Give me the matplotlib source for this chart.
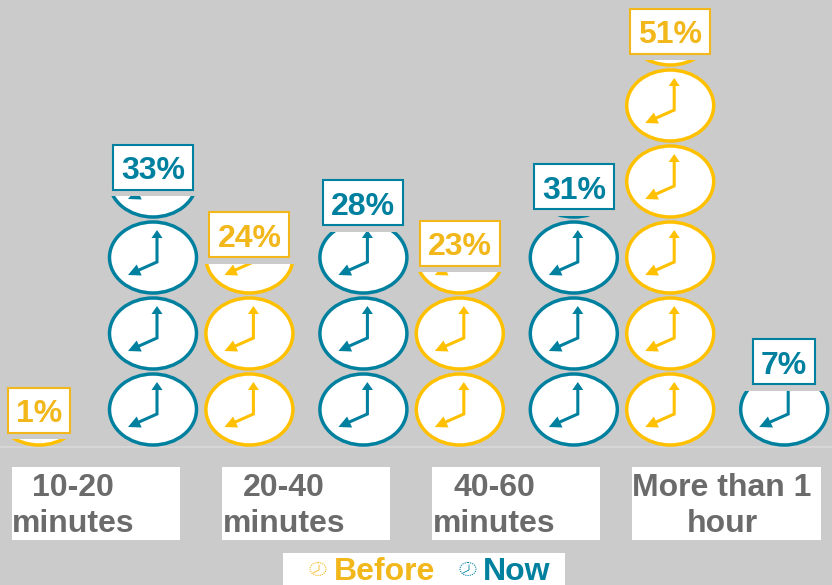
import matplotlib
matplotlib.use('Agg')
import matplotlib.pyplot as plt
from matplotlib.patches import Ellipse, Polygon, Rectangle
from matplotlib.transforms import Affine2D

plt.rcParams['font.family'] = ['Liberation Sans', 'DejaVu Sans']

# --- Data ---
categories = ['10-20\nminutes', '20-40\nminutes', '40-60\nminutes', 'More than 1\nhour']
before = [1, 24, 23, 51]
now = [33, 28, 31, 7]
# the columns are not quite drawn to their printed labels
before_drawn = [1.05, 24.1, 23.0, 50.9]
now_drawn = [33.0, 28.3, 30.4, 7.4]
pct_per_clock = 10

YELLOW = '#ffc000'
TEAL = '#00809f'
YELLOW_TXT = '#f2b71b'
GREY_TXT = '#6b6b6b'
BG = '#cbcbcb'

# --- Figure: axes fill the canvas, scale set so one clock is 10% ---
W, H = 832, 585
fig = plt.figure(figsize=(W / 100, H / 100), dpi=100, facecolor=BG)
ax = fig.add_axes([0, 0, 1, 1])
ax.set_facecolor(BG)
ax.axis('off')

group_px = 210.4
first_px = 96
pct_px = 7.6
base_px = 447
ax.set_xlim(-first_px / group_px, (W - first_px) / group_px)
ax.set_ylim(-(H - base_px) / pct_px, base_px / pct_px)

# pixels from the top left, for the furniture that is not data
px = Affine2D().scale(1, -1).translate(0, H)
offset = 57 / group_px


def dx(p):
    return p / group_px


def dy(p):
    return p / pct_px


def draw_clock(x, y0, clip, color):
    # y0 is the bottom of the clock cell, in percent
    parts = [Ellipse((x, y0 + dy(37.5)), dx(87), dy(71), fc='white', ec=color, lw=2.5, zorder=2)]
    ex, ey = x + dx(4), y0 + dy(33)
    parts.append(ax.plot([x - dx(14), ex, ex], [y0 + dy(25), ey, y0 + dy(57)], color=color, lw=2.2,
                         solid_joinstyle='miter', zorder=3)[0])
    # arrow heads
    parts.append(Polygon([(ex, y0 + dy(65)), (ex - dx(5.5), y0 + dy(57)), (ex + dx(5.5), y0 + dy(57))],
                         fc=color, ec='none', zorder=3))
    parts.append(Polygon([(x - dx(25), y0 + dy(20)), (x - dx(11.3), y0 + dy(19.5)), (x - dx(16.3), y0 + dy(30.5))],
                         fc=color, ec='none', zorder=3))
    for p in parts:
        if not p.axes:
            ax.add_patch(p)
        p.set_clip_path(clip)


def draw_column(x, value, height, color, txt_color):
    clip = Rectangle((x - dx(60), 0), dx(120), height, transform=ax.transData)
    k = 0
    while k * pct_per_clock < height:
        draw_clock(x, k * pct_per_clock, clip, color)
        k += 1
    bw = dx(80 if value >= 10 else 62)
    ax.add_patch(Rectangle((x - bw / 2, height + dy(6.5)), bw, dy(45), fc='white', ec=txt_color, lw=1.5, zorder=4))
    ax.text(x, height + dy(6.5) + dy(22), f'{value}%', color=txt_color, fontsize=23, fontweight='bold',
            ha='center', va='center_baseline', zorder=5)


for i in range(len(categories)):
    draw_column(i - offset, before[i], before_drawn[i], YELLOW, YELLOW_TXT)
    draw_column(i + offset, now[i], now_drawn[i], TEAL, TEAL)

# baseline
ax.axhline(0, color='#d9d9d9', lw=1.2, zorder=1)

# category label boxes
box_left = [12, 222, 432, 632]
box_width = [168, 168, 168, 189]
text_center = [73, 284, 494, 722]
for i, cat in enumerate(categories):
    ax.add_patch(Rectangle((box_left[i], 467), box_width[i], 73, transform=px, fc='white', ec='none', zorder=1))
    for j, line in enumerate(cat.split('\n')):
        ax.text(text_center[i], 485 + 36 * j, line, transform=px, color=GREY_TXT, fontsize=23,
                fontweight='bold', ha='center', va='center_baseline', zorder=5)

# legend
ax.add_patch(Rectangle((283, 553), 282, 32, transform=px, fc='white', ec='none', zorder=1))
legend_names = ['Before', 'Now']
legend_colors = [YELLOW_TXT, TEAL]
legend_icon_x = [318, 468]
legend_text_x = [334, 483]
for name, col, ix, tx in zip(legend_names, legend_colors, legend_icon_x, legend_text_x):
    ax.add_patch(Ellipse((ix, 569), 16, 13, transform=px, fc='white', ec=col, lw=0.8, ls=(0, (1, 1)), zorder=3))
    ax.plot([ix - 5, ix + 1, ix + 1], [573, 570, 565], transform=px, color=col, lw=0.6, zorder=4)
    ax.text(tx, 569, name, transform=px, color=col, fontsize=23, fontweight='bold',
            ha='left', va='center_baseline', zorder=5)

fig.savefig('out.png', dpi=100, facecolor=BG)
